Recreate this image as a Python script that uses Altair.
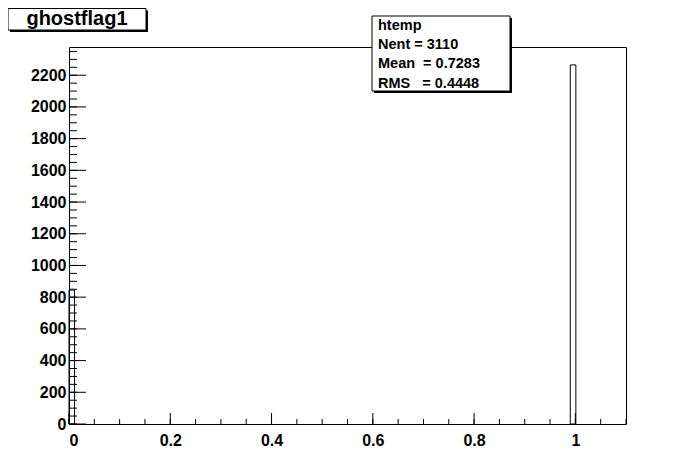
import altair as alt
import pandas as pd

# Histogram bins (ROOT: 100 bins over [0, 1.1])
bin_low = [0.0, 0.99]
bin_high = [0.011, 1.001]
bin_count = [845, 2265]

x_labels = [0, 0.2, 0.4, 0.6, 0.8, 1.0]
x_minor = [round(0.05 * i, 2) for i in range(0, 23)]
y_labels = [0, 200, 400, 600, 800, 1000, 1200, 1400, 1600, 1800, 2000, 2200]
y_minor = [50 * i for i in range(0, 48)]

title_text = "ghostflag1"
stats_lines = ["htemp", "Nent = 3110", "Mean\u00a0\u00a0= 0.7283", "RMS\u00a0\u00a0\u00a0= 0.4448"]

W, H = 557, 377
FONT = "Liberation Sans"

xs = alt.Scale(domain=[0, 1.1], nice=False, zero=False)
ys = alt.Scale(domain=[0, 2378], nice=False, zero=False)

x_axis = alt.Axis(values=x_labels, format="~g", ticks=False, domain=False, grid=False,
                  labelFont=FONT, labelFontSize=16, labelFontWeight="bold",
                  labelColor="black", labelPadding=8, title=None)
y_axis = alt.Axis(values=y_labels, format="d", ticks=False, domain=False, grid=False,
                  labelFont=FONT, labelFontSize=16, labelFontWeight="bold",
                  labelColor="black", labelPadding=3, title=None)

bars_df = pd.DataFrame({"x0": bin_low, "x1": bin_high, "n": bin_count})

bars = alt.Chart(bars_df).mark_rect(fillOpacity=0, stroke="black", strokeWidth=1).encode(
    x=alt.X("x0:Q", scale=xs, axis=x_axis),
    x2="x1:Q",
    y=alt.Y("n:Q", scale=ys, axis=y_axis),
    y2=alt.datum(0),
)

ymaj = alt.Chart(pd.DataFrame({"v": y_labels})).mark_rule(color="black", strokeWidth=1).encode(
    y=alt.Y("v:Q", scale=ys, axis=y_axis), x=alt.value(0), x2=alt.value(17))
ymin = alt.Chart(pd.DataFrame({"v": y_minor})).mark_rule(color="black", strokeWidth=1).encode(
    y=alt.Y("v:Q", scale=ys, axis=y_axis), x=alt.value(0), x2=alt.value(8))
xmaj = alt.Chart(pd.DataFrame({"v": x_labels})).mark_rule(color="black", strokeWidth=1).encode(
    x=alt.X("v:Q", scale=xs, axis=x_axis), y=alt.value(H), y2=alt.value(H - 11))
xmin = alt.Chart(pd.DataFrame({"v": x_minor})).mark_rule(color="black", strokeWidth=1).encode(
    x=alt.X("v:Q", scale=xs, axis=x_axis), y=alt.value(H), y2=alt.value(H - 5))

one = pd.DataFrame({"a": [0]})

def box(x, x2, y, y2, shadow=3):
    sh = alt.Chart(one).mark_rect(fill="black").encode(
        x=alt.value(x + shadow), x2=alt.value(x2 + shadow),
        y=alt.value(y + shadow), y2=alt.value(y2 + shadow))
    bx = alt.Chart(one).mark_rect(fill="white", stroke="black", strokeWidth=1).encode(
        x=alt.value(x), x2=alt.value(x2), y=alt.value(y), y2=alt.value(y2))
    return sh + bx

title_box = box(-61, 77, -38.5, -17, shadow=2)
title_txt = alt.Chart(pd.DataFrame({"t": [title_text]})).mark_text(
    font=FONT, fontSize=20, fontWeight="bold", color="black", align="center", baseline="middle"
).encode(text="t:N", x=alt.value(8), y=alt.value(-28))

stats_box = box(303, 441, -31, 44, shadow=2)
stats_df = pd.DataFrame({"t": stats_lines, "yy": [-21, -2, 17, 37]})
stats_txt = alt.Chart(stats_df).mark_text(
    font=FONT, fontSize=14.5, fontWeight="bold", color="black", align="left", baseline="middle"
).encode(text="t:N", x=alt.value(309), y=alt.Y("yy:Q", scale=None, axis=None))

chart = alt.layer(
    bars, ymin, ymaj, xmin, xmaj, title_box, title_txt, stats_box, stats_txt
).properties(
    width=W, height=H,
    autosize=alt.AutoSizeParams(type="none"),
    padding={"left": 61, "top": 39, "right": 62, "bottom": 40},
    background="white",
).configure_view(stroke="black", strokeWidth=1)

chart.save("out.html", embed_options={"renderer": "svg", "actions": False})
